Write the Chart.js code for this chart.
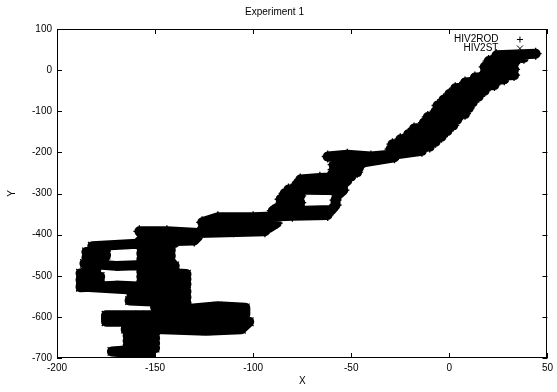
<!DOCTYPE html>
<html><head><meta charset="utf-8">
<script src="https://cdn.jsdelivr.net/npm/chart.js@4.4.1/dist/chart.umd.min.js"></script>
<style>html,body{margin:0;padding:0;background:#fff}#wrap{width:557px;height:392px}</style>
</head><body><div id="wrap"><canvas id="c" width="557" height="392"></canvas></div>
<script>
const chartTitle = 'Experiment 1';
const xAxisLabel = 'X';
const yAxisLabel = 'Y';
const xTicks = [-200, -150, -100, -50, 0, 50];
const yTicks = [100, 0, -100, -200, -300, -400, -500, -600, -700];
const seriesNames = ['HIV2ROD', 'HIV2ST'];

// HIV2ROD walk
const rodX = [44,24,38,20,33,18,33,18,33,13,28,8,23,3,18,0,15,-3,12,-6,10,-7,8,-11,4,-13,2,-18,-1,-21,-4,-25,-7,-29,-10,-30,-14,
  -26,-40,-52,-62,-50,-36,-28,
  -46,-59,-46,-59,-47,-60,
  -50,-66,-76,-52,-64,-78,-54,-68,-82,-54,
  -57,-58,-58,
  -60,-74,-90,
  -86,-76,-86,-76,-84,
  -88,-62,-80,-100,-118,
  -126,-108,-88,-92,-110,-126,-110,-94,
  -128,-144,-158,-156,-142,-128,-130,-144,-158,-152,-140];
const rodY = [40,36,30,22,16,8,2,-6,-12,-18,-22,-30,-36,-44,-50,-58,-64,-72,-78,-86,-92,-100,-106,-114,-120,-128,-134,-142,-148,-156,-162,-168,-174,-180,-186,-192,-196,
  -204,-210,-206,-210,-216,-216,-212,
  -226,-230,-236,-242,-248,-254,
  -258,-262,-266,-268,-274,-278,-280,-286,-290,-292,
  -304,-316,-328,
  -340,-342,-342,
  -330,-322,-314,-306,-300,
  -348,-352,-354,-358,-358,
  -370,-368,-372,-384,-382,-386,-392,-392,
  -396,-392,-392,-404,-406,-404,-414,-416,-416,-424,-420];

// HIV2ST walk
const stX = [-150,-166,-182,
  -175,-185,-175,-185,-176,-186,
  -170,-156,-140,
  -142,-157,-142,-157,-142,-157,
  -140,-157,-134,-157,-134,-157,-134,
  -150,-170,-188,
  -178,-188,-178,-188,-180,-188,
  -160,-134,-162,-134,-163,-134,
  -150,-132,-118,-104,
  -104,-120,-140,-158,-175,
  -175,-158,-138,-118,-102,
  -106,-124,-146,-165,
  -150,-164,-150,-164,-150,-164,-150,
  -172,-162,-152];
const stY = [-420,-424,-428,
  -436,-442,-450,-456,-462,-470,
  -476,-474,-476,
  -466,-460,-452,-446,-438,-432,
  -484,-490,-496,-502,-508,-514,-520,
  -528,-524,-528,
  -518,-510,-502,-494,-486,-526,
  -534,-538,-546,-552,-560,-566,
  -576,-580,-574,-578,
  -594,-598,-594,-596,-596,
  -612,-610,-614,-612,-612,
  -630,-634,-630,-630,
  -640,-646,-652,-658,-664,-670,-676,
  -684,-688,-688];

const FONT = {family: "'Liberation Sans', Arial, Helvetica, sans-serif", size: 10, weight: 'normal'};

function pts(xs, ys) { return xs.map((x, i) => ({x: x, y: ys[i]})); }

const framePlugin = {
  id: 'frame',
  beforeDatasetsDraw(chart) {
    const {ctx, chartArea: a, scales} = chart;
    ctx.save();
    ctx.strokeStyle = '#000';
    ctx.lineWidth = 1;
    ctx.strokeRect(Math.round(a.left) + 0.5, Math.round(a.top) + 0.5, Math.round(a.right - a.left) - 1, Math.round(a.bottom - a.top) - 1);
    ctx.beginPath();
    const T = 5;
    xTicks.forEach(v => {
      const p = Math.round(scales.x.getPixelForValue(v)) + 0.5;
      ctx.moveTo(p, a.bottom); ctx.lineTo(p, a.bottom - T);
      ctx.moveTo(p, a.top); ctx.lineTo(p, a.top + T);
    });
    yTicks.forEach(v => {
      const p = Math.round(scales.y.getPixelForValue(v)) + 0.5;
      ctx.moveTo(a.left, p); ctx.lineTo(a.left + T, p);
      ctx.moveTo(a.right, p); ctx.lineTo(a.right - T, p);
    });
    ctx.stroke();
    ctx.restore();
  },
  afterDraw(chart) {
    const {ctx, chartArea: a} = chart;
    ctx.save();
    ctx.fillStyle = '#000';
    ctx.strokeStyle = '#000';
    ctx.lineWidth = 1;
    ctx.font = "10px 'Liberation Sans', Arial, Helvetica, sans-serif";
    ctx.textAlign = 'right';
    ctx.textBaseline = 'middle';
    const tx = a.right - 49, mx = a.right - 28;
    const rows = [a.top + 10, a.top + 19];
    seriesNames.forEach((n, i) => {
      ctx.fillText(n, tx, rows[i]);
      ctx.beginPath();
      const y = rows[i] + 0.5, x = mx + 0.5, r = 3;
      if (i === 0) { ctx.moveTo(x - r, y); ctx.lineTo(x + r, y); ctx.moveTo(x, y - r); ctx.lineTo(x, y + r); }
      else { ctx.moveTo(x - r, y - r); ctx.lineTo(x + r, y + r); ctx.moveTo(x - r, y + r); ctx.lineTo(x + r, y - r); }
      ctx.stroke();
    });
    ctx.restore();
  }
};

const common = {showLine: true, borderColor: '#000', backgroundColor: '#000', borderWidth: 10,
  borderJoinStyle: 'round', borderCapStyle: 'round', tension: 0,
  pointRadius: 6, pointBorderWidth: 1.3, pointBorderColor: '#000', pointBackgroundColor: '#000', pointHoverRadius: 6};

new Chart(document.getElementById('c'), {
  type: 'scatter',
  data: {
    datasets: [
      Object.assign({label: seriesNames[0], data: pts(rodX, rodY), pointStyle: 'cross'}, common),
      Object.assign({label: seriesNames[1], data: pts(stX, stY), pointStyle: 'crossRot'}, common)
    ]
  },
  options: {
    responsive: false, animation: false, devicePixelRatio: 1,
    layout: {padding: {left: 0, right: 8, top: 0, bottom: 0}},
    plugins: {
      legend: {display: false}, tooltip: {enabled: false},
      title: {display: true, text: chartTitle, color: '#000', font: FONT, padding: {top: 6, bottom: 11}}
    },
    scales: {
      x: {type: 'linear', min: -200, max: 50,
        afterBuildTicks: s => { s.ticks = xTicks.map(v => ({value: v})); },
        ticks: {color: '#000', font: FONT, padding: 4, maxRotation: 0, autoSkip: false},
        grid: {display: false, drawTicks: false}, border: {display: false},
        title: {display: true, text: xAxisLabel, color: '#000', font: FONT, padding: {top: 0, bottom: 5}},
        afterFit: s => { s.height = 34; }
      },
      y: {type: 'linear', min: -700, max: 100,
        afterBuildTicks: s => { s.ticks = yTicks.map(v => ({value: v})); },
        ticks: {color: '#000', font: FONT, padding: 5, autoSkip: false},
        grid: {display: false, drawTicks: false}, border: {display: false},
        title: {display: true, text: yAxisLabel, color: '#000', font: FONT, padding: {top: 6, bottom: 0}},
        afterFit: s => { s.width = 57; }
      }
    }
  },
  plugins: [framePlugin]
});
</script>
</body></html>
